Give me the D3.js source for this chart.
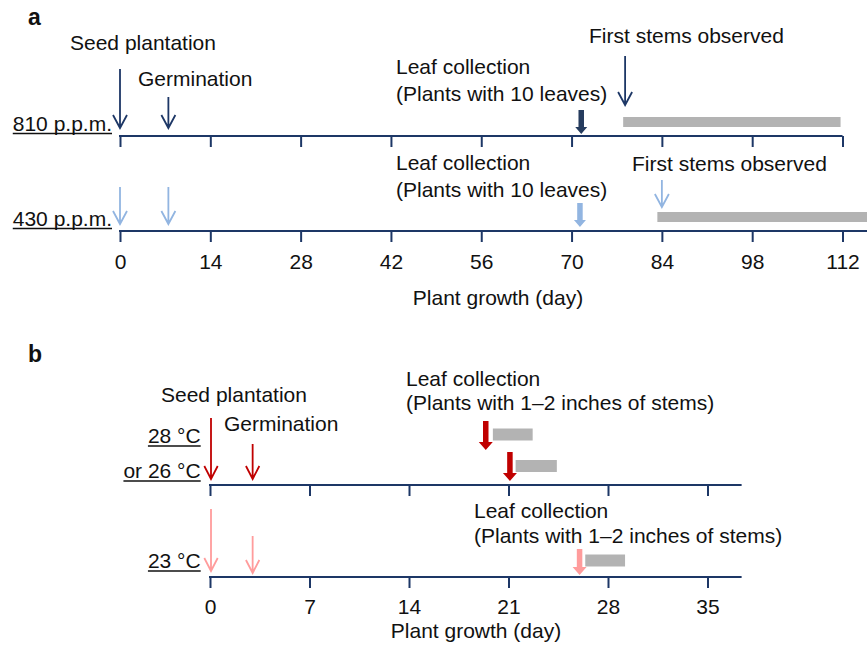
<!DOCTYPE html>
<html><head><meta charset="utf-8">
<script src="https://cdn.jsdelivr.net/npm/d3@7"></script>
<style>
body{margin:0;background:#fff;}
svg text{font-family:"Liberation Sans",Arial,Helvetica,sans-serif;fill:#111;}
</style></head>
<body><svg id="c" width="867" height="652"></svg>
<script>
// ---------- Data ----------
// Panel a (CO2 concentration, days)
const aTicks = [0, 14, 28, 42, 56, 70, 84, 98, 112];
const aRows = ["810 p.p.m.", "430 p.p.m."];
const aSeedDay = [0, 0];
const aGermDay = [7.5, 7.5];
const aLeafDay = [71.5, 71.3];
const aStemDay = [78.3, 84];
const aStemBarStart = [78, 83.3];
const aStemBarEnd = [111.7, 118];
const aAxisEnd = [112, 118];
// Panel b (temperature, days)
const bTicks = [0, 7, 14, 21, 28, 35];
const bRowLabels = ["28 °C", "or 26 °C", "23 °C"];
const bSeedDay = [0, 0];
const bGermDay = [3, 3];
const bLeafDay = [19.4, 21.1, 26];
const bBarStart = [19.9, 21.5, 26.4];
const bBarEnd = [22.7, 24.4, 29.2];
const bAxisEnd = 37.4;

const C = {
  navy: "#1d3766", navyThick: "#263c5e", light: "#92b5e1",
  red: "#c00000", pink: "#ff9c9c", gray: "#b3b3b3"
};
const FS = 21;
const svg = d3.select("#c");

function txt(x, y, s, anchor, opts) {
  const t = svg.append("text").attr("x", x).attr("y", y).attr("font-size", (opts && opts.size) || FS)
    .attr("text-anchor", anchor || "start").text(s);
  if (opts && opts.bold) t.attr("font-weight", "bold");
  return t;
}
function underlined(x, y, s) {
  const t = txt(x, y, s, "end");
  const w = t.node().getComputedTextLength();
  svg.append("line").attr("x1", x - w).attr("x2", x).attr("y1", y + 3).attr("y2", y + 3)
    .attr("stroke", "#111").attr("stroke-width", 1.4);
}
function thinArrow(x, y0, y1, color, hw, hh) {
  svg.append("path")
    .attr("d", `M${x},${y0}L${x},${y1}M${x - hw},${y1 - hh}L${x},${y1}L${x + hw},${y1 - hh}`)
    .attr("fill", "none").attr("stroke", color).attr("stroke-width", 1.8);
}
function thickArrow(x, y0, y1, color, sw, hw, hh) {
  const p = [[x - sw / 2, y0], [x + sw / 2, y0], [x + sw / 2, y1 - hh], [x + hw / 2, y1 - hh],
    [x, y1], [x - hw / 2, y1 - hh], [x - sw / 2, y1 - hh]];
  svg.append("polygon").attr("points", p.map(d => d.join(",")).join(" ")).attr("fill", color);
}
function axisRow(scale, y, ticks, endDay, showLabels, pad) {
  const ax = d3.axisBottom(scale).tickValues(ticks).tickSize(11).tickPadding(pad || 12)
    .tickSizeOuter(0).tickFormat(showLabels ? d3.format("d") : () => "");
  const g = svg.append("g").attr("transform", `translate(0,${y})`).call(ax);
  g.select(".domain").remove();
  g.selectAll(".tick line").attr("stroke", C.navy).attr("stroke-width", 2);
  g.selectAll(".tick text").attr("font-size", FS).attr("fill", "#111")
    .attr("font-family", '"Liberation Sans",Arial,sans-serif');
  svg.append("line").attr("x1", scale(0) - 1).attr("x2", scale(endDay)).attr("y1", y).attr("y2", y)
    .attr("stroke", C.navy).attr("stroke-width", 2);
}

// ---------- Panel a ----------
const xa = d3.scaleLinear().domain([0, 112]).range([120, 842.5]);
const aY = [136, 231];
txt(28, 25, "a", "start", { bold: true, size: 23 });
txt(70, 50, "Seed plantation");
txt(138, 86, "Germination");
aRows.forEach((r, i) => {
  const y = aY[i];
  const light = i === 1;
  axisRow(xa, y, aTicks, aAxisEnd[i], i === 1, 12);
  underlined(112, y - 5.5, r);
  // bars first
  svg.append("rect").attr("x", xa(aStemBarStart[i])).attr("width", xa(aStemBarEnd[i]) - xa(aStemBarStart[i]))
    .attr("y", y - 19).attr("height", 10).attr("fill", C.gray);
  const col = light ? C.light : C.navy;
  if (!light) {
    thinArrow(xa(aSeedDay[i]), 69, y - 8, col, 7, 13);
    thinArrow(xa(aGermDay[i]), 97, y - 8, col, 7, 13);
    thinArrow(xa(aStemDay[i]), 56, 105, col, 7, 13);
    thickArrow(xa(aLeafDay[i]), 110, y - 2, C.navyThick, 5.5, 12, 7);
  } else {
    thinArrow(xa(aSeedDay[i]), 187, y - 7, col, 7, 13);
    thinArrow(xa(aGermDay[i]), 187, y - 7, col, 7, 13);
    thinArrow(xa(aStemDay[i]), 180, 207, col, 7, 13);
    thickArrow(xa(aLeafDay[i]), 203, y - 4, C.light, 5.5, 12, 7);
  }
});
txt(396, 74, "Leaf collection");
txt(396, 101, "(Plants with 10 leaves)");
txt(589, 43, "First stems observed");
txt(396, 170, "Leaf collection");
txt(396, 197, "(Plants with 10 leaves)");
txt(632, 171, "First stems observed");
txt(498, 305, "Plant growth (day)", "middle");

// ---------- Panel b ----------
const xb = d3.scaleLinear().domain([0, 35]).range([210, 707.5]);
const bY = [485, 577];
txt(28, 362, "b", "start", { bold: true, size: 23 });
axisRow(xb, bY[0], bTicks, bAxisEnd, false, 11);
axisRow(xb, bY[1], bTicks, bAxisEnd, true, 11);
txt(161, 402, "Seed plantation");
txt(224, 431, "Germination");
underlined(200.7, 443, bRowLabels[0]);
underlined(200.7, 478, bRowLabels[1]);
underlined(200.7, 568, bRowLabels[2]);
thinArrow(xb(bSeedDay[0]) + 1, 418, 479, C.red, 6.7, 13);
thinArrow(xb(bGermDay[0]), 444, 479, C.red, 6.7, 13);
thinArrow(xb(bSeedDay[1]) + 1, 509, 571, C.pink, 6.7, 13);
thinArrow(xb(bGermDay[1]), 536, 573, C.pink, 6.7, 13);
const bBarY = [428.5, 460, 554.5];
const bArrowY = [[421, 450], [452, 481], [549, 575]];
const bArrowCol = [C.red, C.red, C.pink];
bLeafDay.forEach((d, i) => {
  svg.append("rect").attr("x", xb(bBarStart[i])).attr("width", xb(bBarEnd[i]) - xb(bBarStart[i]))
    .attr("y", bBarY[i]).attr("height", 12).attr("fill", C.gray);
  thickArrow(xb(d), bArrowY[i][0], bArrowY[i][1], bArrowCol[i], 5.5, 14, 8);
});
txt(406, 386, "Leaf collection");
txt(406, 410, "(Plants with 1–2 inches of stems)");
txt(474, 518, "Leaf collection");
txt(474, 543, "(Plants with 1–2 inches of stems)");
txt(476, 638, "Plant growth (day)", "middle");
</script></body></html>
